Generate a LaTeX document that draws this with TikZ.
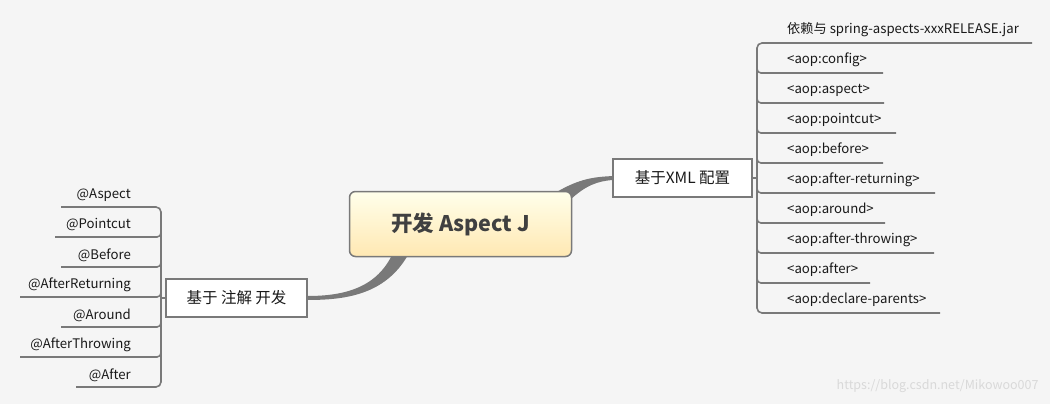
\documentclass[tikz,border=0pt]{standalone}
\usepackage{fontspec}
\setmainfont{Noto Sans CJK SC}
\usetikzlibrary{positioning}
\begin{document}
\begin{tikzpicture}[x=1pt,y=-1pt,
  ln/.style={draw=gray!95!black,line width=1.6pt},
  it/.style={font=\fontsize{13.2}{15}\selectfont,text=black!90,inner sep=0pt},
  sub/.style={draw=gray!95!black,line width=1.5pt,fill=white,font=\fontsize{15.5}{17}\selectfont,text=black!90,minimum height=38pt,inner xsep=8pt}]
\fill[black!4] (0,0) rectangle (1050,404);
\useasboundingbox (0,0) rectangle (1050,404);
% tapered connectors
\fill[gray!95!black] (555,193) .. controls (580,178) and (595,177) .. (613,176) -- (613,180) .. controls (597,181) and (585,186) .. (570,200) -- cycle;
\fill[gray!95!black] (392,255) .. controls (375,290) and (340,296) .. (307,296) -- (307,300) .. controls (345,300) and (385,295) .. (408,255) -- cycle;
% central
\node[draw=gray!95!black,line width=1.5pt,rounded corners=6pt,top color=yellow!8,bottom color=yellow!40!orange!30,minimum width=222pt,minimum height=65pt,font=\fontsize{21.5}{24}\selectfont\bfseries,text=black!75] (c) at (460.5,224) {开发 Aspect J};
\node[sub,minimum width=139pt] (r) at (682.5,178) {基于XML 配置};
\node[sub,minimum width=141pt] (l) at (236.5,298) {基于 注解 开发};
% right tree
\coordinate (rv) at (757,178);
\draw[ln] (r.east) -- (rv);
\draw[ln,rounded corners=5pt] (1032,43) -| (757,313) -- (940,313);
\foreach \t/\w [count=\i from 0] in {依赖与 spring-aspects-xxxRELEASE.jar/1032,{<aop:config>}/883,{<aop:aspect>}/884,{<aop:pointcut>}/896,{<aop:before>}/883,{<aop:after-returning>}/935,{<aop:around>}/885,{<aop:after-throwing>}/934,{<aop:after>}/870,{<aop:declare-parents>}/940}{
  \pgfmathsetmacro\yy{43+30*\i}
  \node[it,anchor=west] (ri\i) at (787,\yy-13) {\t};
  \ifnum\i>0 \ifnum\i<9 \draw[ln,rounded corners=4pt] (757,\yy-8) |- (\w,\yy); \fi\fi
}
% left tree
\coordinate (lv) at (161,298);
\draw[ln] (l.west) -- (lv);
\draw[ln,rounded corners=5pt] (61,207) -| (161,387) -- (76,387);
\foreach \t/\w [count=\i from 0] in {@Aspect/61,@Pointcut/55,@Before/61,@AfterReturning/20,@Around/61,@AfterThrowing/20,@After/76}{
  \pgfmathsetmacro\yy{207+30*\i}
  \node[it,anchor=east] (li\i) at (131,\yy-12) {\t};
  \ifnum\i>0 \ifnum\i<6 \draw[ln,rounded corners=4pt] (161,\yy-8) |- (\w,\yy); \fi\fi
}
\node[font=\fontsize{12.5}{14}\selectfont,text=white!70!gray,anchor=east] (wm) at (1042,386) {https://blog.csdn.net/Mikowoo007};
\end{tikzpicture}
\end{document}
